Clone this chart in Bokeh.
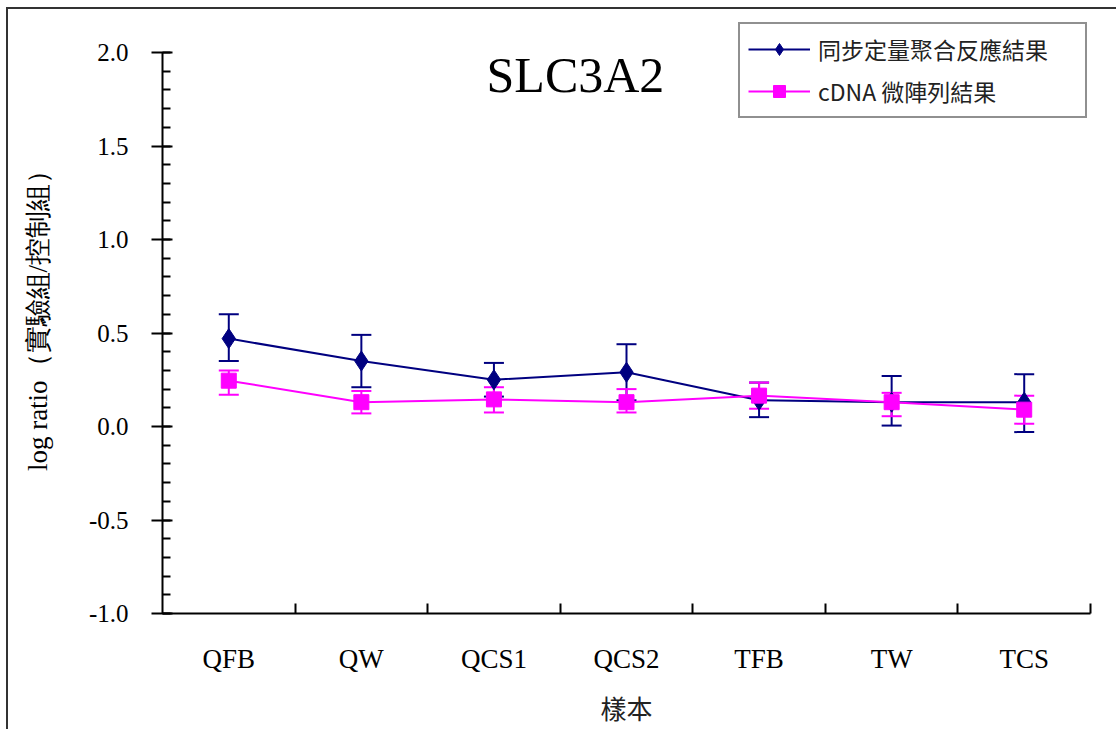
import numpy as np
from bokeh.plotting import figure
from bokeh.models import (ColumnDataSource, FixedTicker, Whisker, TeeHead, Legend,
                          LegendItem, Label, Range1d)
from bokeh.embed import file_html
from bokeh.resources import INLINE

# ---- data ----
categories = ["QFB", "QW", "QCS1", "QCS2", "TFB", "TW", "TCS"]
qpcr_vals = [0.47, 0.35, 0.25, 0.29, 0.14, 0.13, 0.13]
qpcr_upper = [0.60, 0.49, 0.34, 0.44, 0.235, 0.27, 0.28]
qpcr_lower = [0.35, 0.21, 0.16, 0.14, 0.05, 0.005, -0.03]
cdna_vals = [0.245, 0.13, 0.145, 0.13, 0.165, 0.13, 0.09]
cdna_upper = [0.30, 0.19, 0.21, 0.20, 0.235, 0.18, 0.165]
cdna_lower = [0.17, 0.07, 0.075, 0.075, 0.095, 0.055, 0.015]
y_ticks = [-1.0, -0.5, 0.0, 0.5, 1.0, 1.5, 2.0]
title_text = "SLC3A2"
y_label = "log ratio（實驗組/控制組）"
x_label = "樣本"
series_names = ["同步定量聚合反應結果", "cDNA 微陣列結果"]

xs = [i + 0.5 for i in range(len(categories))]
src_q = ColumnDataSource(dict(x=xs, y=qpcr_vals, upper=qpcr_upper, lower=qpcr_lower))
src_c = ColumnDataSource(dict(x=xs, y=cdna_vals, upper=cdna_upper, lower=cdna_lower))

BLUE = "#000080"
PINK = "#FF00FF"
SERIF = "Liberation Serif"
CJK = "Noto Sans CJK TC"

# frame extends above the top tick so the legend fits inside it
y_top = y_ticks[-1] + 38 / 187.0
p = figure(frame_width=928, frame_height=599,
           min_border_left=154, min_border_right=26, min_border_top=5, min_border_bottom=116,
           x_range=Range1d(0, len(categories)), y_range=Range1d(y_ticks[0], y_top),
           output_backend="svg", toolbar_location=None, tools="")
p.styles = {"border-left": "2px solid #333333", "border-top": "2px solid #333333",
            "margin-left": "6px", "margin-top": "7px"}
p.outline_line_color = None
p.xgrid.visible = False
p.ygrid.visible = False
p.background_fill_color = "white"
p.border_fill_color = "white"

# y axis
ya = p.yaxis[0]
ya.bounds = (y_ticks[0], y_ticks[-1])
ya.ticker = FixedTicker(ticks=y_ticks,
                        minor_ticks=list(np.round(np.arange(y_ticks[0], y_ticks[-1] + 0.001, 0.1), 2)))
ya.major_label_overrides = {t: f"{t:.1f}" for t in y_ticks}
ya.major_tick_out = 11
ya.major_tick_in = 10
ya.minor_tick_out = 0
ya.minor_tick_in = 8
ya.axis_line_width = 2
ya.major_tick_line_width = 2
ya.minor_tick_line_width = 2
ya.major_label_standoff = 23
ya.major_label_text_font = SERIF
ya.major_label_text_font_size = "25px"
ya.major_label_text_color = "black"
ya.axis_label = y_label
ya.axis_label_text_font = SERIF
ya.axis_label_text_font_size = "27px"
ya.axis_label_text_font_style = "normal"
ya.axis_label_text_color = "black"
ya.axis_label_standoff = 33

# x axis
xa = p.xaxis[0]
xa.ticker = FixedTicker(ticks=xs, minor_ticks=list(range(1, len(categories) + 1)))
xa.major_label_overrides = {x: c for x, c in zip(xs, categories)}
xa.major_tick_in = 0
xa.major_tick_out = 0
xa.minor_tick_in = 10
xa.minor_tick_out = 0
xa.axis_line_width = 2
xa.minor_tick_line_width = 2
xa.major_label_standoff = 30
xa.major_label_text_font = SERIF
xa.major_label_text_font_size = "27px"
xa.major_label_text_color = "black"
xa.axis_label = x_label
xa.axis_label_text_font = CJK
xa.axis_label_text_font_size = "26px"
xa.axis_label_text_font_style = "normal"
xa.axis_label_text_color = "#222222"
xa.axis_label_standoff = 12

# qPCR series
p.add_layout(Whisker(source=src_q, base="x", upper="upper", lower="lower", dimension="height",
                     line_color=BLUE, line_width=2,
                     upper_head=TeeHead(size=20, line_color=BLUE, line_width=2),
                     lower_head=TeeHead(size=20, line_color=BLUE, line_width=2)))
lq = p.line("x", "y", source=src_q, line_color=BLUE, line_width=2)
sq = p.scatter("x", "y", source=src_q, marker="diamond", size=20,
               fill_color=BLUE, line_color=BLUE)

# cDNA series
p.add_layout(Whisker(source=src_c, base="x", upper="upper", lower="lower", dimension="height",
                     line_color=PINK, line_width=2,
                     upper_head=TeeHead(size=20, line_color=PINK, line_width=2),
                     lower_head=TeeHead(size=20, line_color=PINK, line_width=2)))
lc = p.line("x", "y", source=src_c, line_color=PINK, line_width=2)
sc = p.scatter("x", "y", source=src_c, marker="square", size=15,
               fill_color=PINK, line_color=PINK)

# title inside the frame
p.add_layout(Label(x=3.115, y=1.879, text=title_text, text_font=SERIF, text_font_size="50px",
                   text_align="center", text_baseline="alphabetic", text_color="black"))

legend = Legend(items=[LegendItem(label=series_names[0], renderers=[lq, sq]),
                       LegendItem(label=series_names[1], renderers=[lc, sc])],
                location=(576, 495), orientation="vertical",
                border_line_color="#222222", border_line_width=2,
                background_fill_color="white", background_fill_alpha=1.0,
                padding=8, spacing=8, margin=0,
                glyph_width=62, glyph_height=30, label_height=30, label_width=259,
                label_standoff=8,
                label_text_font=CJK, label_text_font_size="23px", label_text_color="#222222")
p.add_layout(legend)

open("out.html", "w").write(file_html(p, INLINE))
